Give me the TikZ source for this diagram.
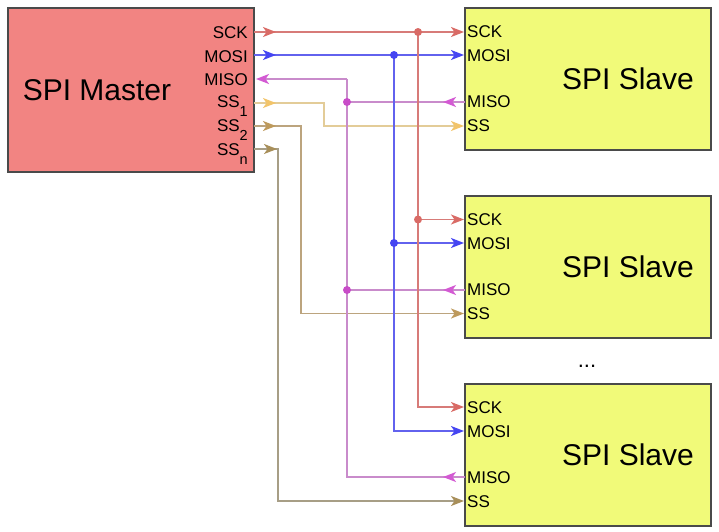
\documentclass[tikz,border=0pt]{standalone}
\usepackage{fontspec}
\setmainfont{Liberation Sans}
\usetikzlibrary{arrows.meta}
\definecolor{masterfill}{HTML}{F28482}
\definecolor{slavefill}{HTML}{F1FA79}
\definecolor{boxline}{HTML}{4A4A4A}
\definecolor{sckL}{HTML}{D77B78}\definecolor{sckA}{HTML}{D96B66}
\definecolor{mosiL}{HTML}{6262EE}\definecolor{mosiA}{HTML}{4545F2}
\definecolor{misoL}{HTML}{C98BCB}\definecolor{misoA}{HTML}{D35AD3}\definecolor{misoD}{HTML}{C84CC8}
\definecolor{ssaL}{HTML}{E3CC98}\definecolor{ssaA}{HTML}{F2C46A}
\definecolor{ssbL}{HTML}{BCA47E}\definecolor{ssbA}{HTML}{BE9A5C}
\definecolor{sscL}{HTML}{A79E86}\definecolor{sscA}{HTML}{A88F5A}
\newcommand{\pinsub}[1]{\raisebox{-9pt}{\fontsize{14.5}{14.5}\selectfont #1}}
\begin{document}
\begin{tikzpicture}[x=1pt,y=-1pt,
  masterbox/.style={draw=boxline,line width=1.6pt,fill=masterfill,minimum width=246pt,minimum height=164pt,inner sep=0pt},
  slavebox/.style={draw=boxline,line width=1.6pt,fill=slavefill,minimum width=246pt,minimum height=142pt,inner sep=0pt},
  title/.style={font=\fontsize{30}{30}\selectfont,inner sep=0pt},
  mpin/.style={font=\fontsize{17}{17}\selectfont,anchor=base east,inner sep=0pt},
  spin/.style={font=\fontsize{17}{17}\selectfont,anchor=base west,inner sep=0pt},
  sig/.style={line width=1.7pt},
  tip/.style={-{Stealth[length=13pt,width=10pt,inset=3.5pt,color=#1]}},
  sck/.style={sig,draw=sckL},
  mosi/.style={sig,draw=mosiL},
  miso/.style={sig,draw=misoL},
  ssa/.style={sig,draw=ssaL},
  ssb/.style={sig,draw=ssbL},
  ssc/.style={sig,draw=sscL}
]
\useasboundingbox (0,0) rectangle (719,531);

% boxes
\node[masterbox] (master) at (131,90) {};
\node[title] (mt) at (97,90) {SPI Master};
\node[slavebox] (s1) at (588,79) {};
\node[slavebox] (s2) at (588,267) {};
\node[slavebox] (s3) at (588,455) {};
\node[title] (s1t) at (628,79) {SPI Slave};
\node[title] (s2t) at (628,267) {SPI Slave};
\node[title] (s3t) at (628,455) {SPI Slave};
\node[font=\fontsize{22}{22}\selectfont,inner sep=0pt,anchor=base] (dots) at (587,367) {...};

% master pin labels
\node[mpin] (lsck) at (248,38) {SCK};
\node[mpin] (lmosi) at (248,62) {MOSI};
\node[mpin] (lmiso) at (248,85) {MISO};
\node[mpin] (lss1) at (248,107) {SS\pinsub{1}};
\node[mpin] (lss2) at (248,131) {SS\pinsub{2}};
\node[mpin] (lssn) at (248,155) {SS\pinsub{n}};

% slave pin labels
\foreach \s/\b in {1/8,2/196,3/384}{
  \node[spin] (s\s-lsck) at (467,\b+29) {SCK};
  \node[spin] (s\s-lmosi) at (467,\b+53) {MOSI};
  \node[spin] (s\s-lmiso) at (467,\b+99.5) {MISO};
  \node[spin] (s\s-lss) at (467,\b+123) {SS};
}

% pin coordinates
\coordinate (m-sck) at (254,32);
\coordinate (m-mosi) at (254,55);
\coordinate (m-miso) at (256,79);
\coordinate (m-ss1) at (254,103);
\coordinate (m-ss2) at (254,126);
\coordinate (m-ssn) at (254,149);
\coordinate (s1-sck) at (464,32);
\coordinate (s1-mosi) at (464,55);
\coordinate (s1-miso) at (465,102);
\coordinate (s1-ss) at (464,126);
\coordinate (s2-sck) at (464,219.5);
\coordinate (s2-mosi) at (464,243);
\coordinate (s2-miso) at (465,290);
\coordinate (s2-ss) at (464,313.5);
\coordinate (s3-sck) at (464,407);
\coordinate (s3-mosi) at (464,431);
\coordinate (s3-miso) at (465,477);
\coordinate (s3-ss) at (464,501);
% bus junctions
\coordinate (j-sck1) at (418,32);
\coordinate (j-sck2) at (j-sck1 |- s2-sck);
\coordinate (j-mosi1) at (394,55);
\coordinate (j-mosi2) at (j-mosi1 |- s2-mosi);
\coordinate (j-miso0) at (347,79);
\coordinate (j-miso1) at (j-miso0 |- s1-miso);
\coordinate (j-miso2) at (j-miso0 |- s2-miso);
\coordinate (c-ss1) at (324,103);
\coordinate (c-ss2) at (301,126);
\coordinate (c-ssn) at (278,149);

% SSn
\draw[ssc,tip=sscA] (m-ssn) -- (c-ssn) |- (s3-ss);
\draw[ssc,tip=sscA] (m-ssn) -- ++(23,0);
% SS2
\draw[ssb,tip=ssbA] (m-ss2) -- (c-ss2) |- (s2-ss);
\draw[ssb,tip=ssbA] (m-ss2) -- ++(22,0);
% SS1
\draw[ssa,tip=ssaA] (m-ss1) -- (c-ss1) |- (s1-ss);
\draw[ssa,tip=ssaA] (m-ss1) -- ++(22,0);
% MISO
\draw[miso] (j-miso0) |- (s3-miso);
\draw[miso,tip=misoA] (j-miso0) -- (m-miso);
\draw[miso] (s1-miso) -- (j-miso1);
\draw[miso] (s2-miso) -- (j-miso2);
\foreach \k in {1,2,3}{\draw[miso,tip=misoA] (s\k-miso) -- ++(-22,0);}
\fill[misoD] (j-miso1) circle (4pt);
\fill[misoD] (j-miso2) circle (4pt);
% MOSI
\draw[mosi,tip=mosiA] (m-mosi) -- (s1-mosi);
\draw[mosi,tip=mosiA] (m-mosi) -- ++(22,0);
\draw[mosi,tip=mosiA] (j-mosi1) |- (s3-mosi);
\draw[mosi,tip=mosiA] (j-mosi2) -- (s2-mosi);
\fill[mosiA] (j-mosi1) circle (4pt);
\fill[mosiA] (j-mosi2) circle (4pt);
% SCK
\draw[sck,tip=sckA] (m-sck) -- (s1-sck);
\draw[sck,tip=sckA] (m-sck) -- ++(22,0);
\draw[sck,tip=sckA] (j-sck1) |- (s3-sck);
\draw[sck,tip=sckA] (j-sck2) -- (s2-sck);
\fill[sckA] (j-sck1) circle (4pt);
\fill[sckA] (j-sck2) circle (4pt);
\end{tikzpicture}
\end{document}
